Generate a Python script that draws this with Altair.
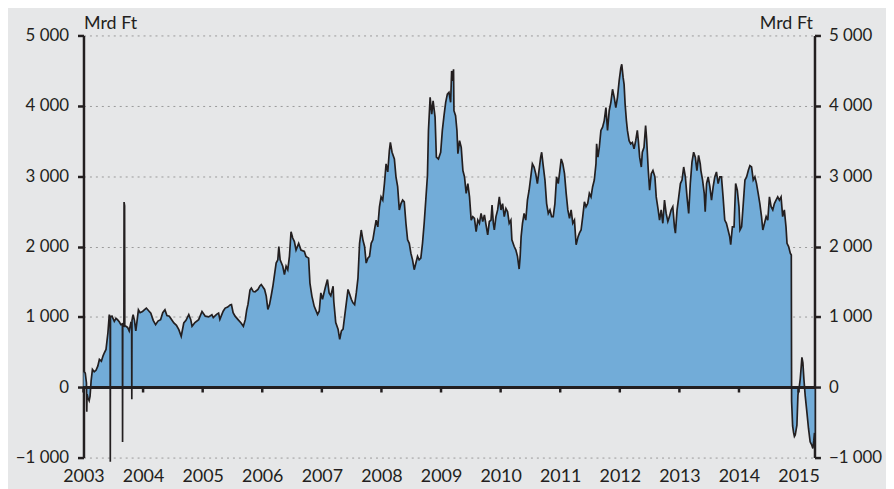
import altair as alt
import pandas as pd

# ---- data (decimal year, value in Mrd Ft) ----
years_a = [2003.000, 2003.030, 2003.050, 2003.055, 2003.060, 2003.075, 2003.095, 2003.110, 2003.128, 2003.150,
           2003.180, 2003.210, 2003.240, 2003.267, 2003.300, 2003.330, 2003.350, 2003.378, 2003.410, 2003.433,
           2003.447, 2003.450, 2003.453, 2003.478, 2003.517, 2003.545, 2003.570, 2003.600, 2003.628, 2003.653,
           2003.656, 2003.659, 2003.678, 2003.681, 2003.690, 2003.693, 2003.711, 2003.740, 2003.767, 2003.794,
           2003.808, 2003.811, 2003.814, 2003.833, 2003.855, 2003.878, 2003.900, 2003.922, 2003.950, 2003.990,
           2004.020, 2004.055, 2004.090, 2004.130, 2004.170, 2004.210, 2004.250, 2004.294, 2004.330, 2004.367,
           2004.400, 2004.440, 2004.480, 2004.517, 2004.560, 2004.600, 2004.640, 2004.683, 2004.720, 2004.767,
           2004.800, 2004.822, 2004.870, 2004.933, 2004.989, 2005.044, 2005.100]
vals_a = [230, 200, 60, -350, -100, -150, -190, -130, 90, 254,
          220, 240, 300, 395, 370, 450, 490, 537, 772, 1031,
          1000, -1060, 1000, 1010, 937, 980, 960, 930, 890, 900,
          -777, 880, 870, 2631, 2580, 880, 866, 850, 800, 913,
          900, -170, 950, 1031, 950, 800, 950, 1100, 1060, 1076,
          1100, 1125, 1090, 1053, 950, 890, 940, 960, 1060, 1100,
          1020, 1010, 960, 913, 880, 819, 725, 913, 950, 1031,
          960, 866, 920, 960, 1076, 1010, 1000]

years_b = [2005.155, 2005.178, 2005.233, 2005.267, 2005.289, 2005.344, 2005.378, 2005.420, 2005.460, 2005.483,
           2005.511, 2005.544, 2005.590, 2005.644, 2005.683, 2005.715, 2005.739, 2005.761, 2005.794, 2005.817,
           2005.850, 2005.878, 2005.928, 2005.960, 2005.983, 2006.039, 2006.067, 2006.094, 2006.122, 2006.150,
           2006.178, 2006.233, 2006.261, 2006.278, 2006.300, 2006.344, 2006.372, 2006.400, 2006.428, 2006.456,
           2006.483, 2006.511, 2006.539, 2006.567, 2006.611, 2006.650, 2006.706, 2006.733, 2006.778, 2006.800,
           2006.833, 2006.872, 2006.928, 2006.956, 2006.983, 2007.011, 2007.056, 2007.094, 2007.122, 2007.150,
           2007.161, 2007.189, 2007.200]
vals_b = [1031, 990, 1035, 1053, 965, 1080, 1125, 1140, 1170, 1175,
          1060, 1010, 965, 913, 866, 960, 1100, 1180, 1380, 1410,
          1360, 1357, 1390, 1440, 1460, 1390, 1295, 1105, 1175, 1300,
          1435, 1765, 1810, 2000, 1810, 1720, 1600, 1720, 1670, 1860,
          2210, 2120, 2070, 1950, 2045, 1950, 1930, 1860, 1835, 1480,
          1295, 1150, 1035, 1080, 1340, 1250, 1410, 1530, 1340, 1300,
          1340, 1435, 1225]

years_c = [2007.233, 2007.272, 2007.300, 2007.328, 2007.356, 2007.383, 2007.411, 2007.439, 2007.467, 2007.494,
           2007.522, 2007.550, 2007.578, 2007.606, 2007.633, 2007.661, 2007.689, 2007.717, 2007.744, 2007.772,
           2007.800, 2007.828, 2007.856, 2007.883, 2007.911, 2007.939, 2007.967, 2007.994, 2008.022, 2008.050,
           2008.078, 2008.106, 2008.133, 2008.150, 2008.178, 2008.217, 2008.244, 2008.272, 2008.300, 2008.328,
           2008.356, 2008.383, 2008.411, 2008.439, 2008.467, 2008.494, 2008.522, 2008.550, 2008.578, 2008.606,
           2008.633, 2008.661, 2008.689, 2008.717, 2008.744, 2008.772, 2008.789, 2008.817, 2008.844, 2008.867,
           2008.900, 2008.922, 2008.956, 2008.994, 2009.022, 2009.050, 2009.078, 2009.106, 2009.133, 2009.161,
           2009.178, 2009.200]
vals_c = [920, 825, 680, 800, 825, 1010, 1200, 1390, 1320, 1250,
          1200, 1175, 1340, 1550, 2045, 2235, 2095, 2000, 1765, 1835,
          1860, 2045, 2095, 2235, 2375, 2280, 2565, 2705, 2660, 2895,
          3175, 3060, 3365, 3480, 3340, 3245, 2990, 2850, 2520, 2610,
          2660, 2635, 2330, 2095, 2045, 1905, 1810, 1670, 1765, 1860,
          1810, 1835, 2045, 2330, 2660, 3010, 3650, 4120, 3880, 4070,
          3840, 3270, 3245, 3340, 3650, 3860, 4050, 4165, 4190, 4050,
          4495, 4355]

years_d = [2009.210, 2009.217, 2009.244, 2009.267, 2009.283, 2009.311, 2009.339, 2009.367, 2009.394, 2009.422,
           2009.450, 2009.478, 2009.506, 2009.533, 2009.561, 2009.589, 2009.617, 2009.644, 2009.672, 2009.700,
           2009.728, 2009.756, 2009.783, 2009.811, 2009.839, 2009.856, 2009.878, 2009.894, 2009.922, 2009.950,
           2009.978, 2010.006, 2010.033, 2010.061, 2010.089, 2010.117, 2010.144, 2010.172, 2010.189, 2010.228,
           2010.256, 2010.283, 2010.311, 2010.328, 2010.344, 2010.367, 2010.394, 2010.422, 2010.450, 2010.478,
           2010.506, 2010.533, 2010.561, 2010.589, 2010.617, 2010.644, 2010.672, 2010.689, 2010.711, 2010.744,
           2010.772, 2010.800, 2010.828, 2010.856, 2010.883, 2010.911, 2010.939, 2010.967, 2010.994, 2011.017,
           2011.044, 2011.072, 2011.100, 2011.128, 2011.156, 2011.183, 2011.211, 2011.239, 2011.267, 2011.300]
vals_d = [4520, 3930, 3860, 3650, 3320, 3505, 3410, 3080, 2990, 2755,
          2895, 2705, 2375, 2425, 2400, 2210, 2375, 2330, 2470, 2355,
          2450, 2305, 2165, 2355, 2375, 2590, 2330, 2235, 2425, 2520,
          2705, 2520, 2610, 2425, 2540, 2495, 2330, 2375, 2095, 2000,
          1950, 1860, 1680, 1860, 2140, 2330, 2470, 2375, 2660, 2800,
          2990, 3175, 3130, 3035, 2895, 3080, 3270, 3340, 3175, 2945,
          2610, 2470, 2520, 2425, 2425, 2610, 2990, 2895, 3080, 3245,
          3175, 3035, 2755, 2520, 2400, 2520, 2330, 2375, 2025, 2140]

years_e = [2011.322, 2011.350, 2011.378, 2011.406, 2011.433, 2011.461, 2011.489, 2011.517, 2011.544, 2011.572,
           2011.600, 2011.611, 2011.633, 2011.656, 2011.683, 2011.711, 2011.739, 2011.767, 2011.794, 2011.822,
           2011.850, 2011.878, 2011.906, 2011.933, 2011.961, 2011.989, 2012.017, 2012.033, 2012.056, 2012.072,
           2012.089, 2012.111, 2012.128, 2012.156, 2012.183, 2012.211, 2012.239, 2012.267, 2012.294, 2012.311,
           2012.333, 2012.361, 2012.378, 2012.406, 2012.433, 2012.450, 2012.478, 2012.500, 2012.528, 2012.556,
           2012.589, 2012.611, 2012.644, 2012.667, 2012.694, 2012.722, 2012.750, 2012.778, 2012.806, 2012.833,
           2012.861, 2012.889, 2012.917, 2012.933, 2012.961, 2012.989, 2013.017, 2013.044, 2013.072, 2013.100,
           2013.128, 2013.156, 2013.183, 2013.211, 2013.239, 2013.267, 2013.294, 2013.322, 2013.350]
vals_e = [2190, 2235, 2425, 2635, 2565, 2610, 2755, 2705, 2850, 2945,
          3175, 3460, 3270, 3410, 3650, 3695, 3790, 3975, 3650, 3930,
          4050, 4235, 4120, 3975, 4120, 4355, 4540, 4590, 4400, 4305,
          4025, 3790, 3650, 3505, 3460, 3480, 3390, 3505, 3650, 3505,
          3270, 3130, 3340, 3410, 3720, 3530, 3080, 2800, 3035, 3080,
          2990, 2705, 2520, 2375, 2520, 2330, 2660, 2470, 2355, 2425,
          2520, 2565, 2280, 2190, 2520, 2705, 2895, 2945, 3130, 2990,
          2705, 2470, 2895, 3200, 3340, 3270, 3080, 3295, 3175]

years_f = [2013.361, 2013.389, 2013.417, 2013.433, 2013.456, 2013.483, 2013.511, 2013.539, 2013.567, 2013.594,
           2013.622, 2013.650, 2013.678, 2013.706, 2013.733, 2013.761, 2013.789, 2013.817, 2013.844, 2013.861,
           2013.889, 2013.917, 2013.944, 2013.972, 2014.000, 2014.017, 2014.044, 2014.072, 2014.100, 2014.128,
           2014.156, 2014.183, 2014.211, 2014.239, 2014.267, 2014.294, 2014.322, 2014.350, 2014.378, 2014.400,
           2014.428, 2014.456, 2014.483, 2014.511, 2014.539, 2014.567, 2014.594, 2014.622, 2014.650, 2014.678,
           2014.706, 2014.733, 2014.761, 2014.789, 2014.806, 2014.833, 2014.861, 2014.878, 2014.883, 2014.900,
           2014.917, 2014.930, 2014.944, 2014.960, 2014.972, 2014.989, 2015.000, 2015.011, 2015.028, 2015.045,
           2015.056, 2015.072, 2015.089, 2015.111, 2015.139, 2015.167, 2015.194, 2015.222, 2015.240, 2015.255,
           2015.267]
vals_f = [3080, 2945, 2755, 2495, 2895, 2990, 2850, 2660, 2850, 2990,
          3060, 2895, 2990, 2990, 2705, 2375, 2330, 2235, 2140, 2025,
          2280, 2280, 2895, 2800, 2565, 2235, 2280, 2610, 2945, 2990,
          3080, 3150, 3130, 2945, 2990, 2895, 2755, 2610, 2425, 2235,
          2330, 2425, 2375, 2705, 2565, 2520, 2610, 2660, 2705, 2660,
          2705, 2425, 2520, 2280, 2045, 2000, 1905, 1880, -200, -550,
          -650, -700, -680, -600, -540, -120, -20, 0, 120, 300,
          425, 350, 120, -120, -350, -590, -775, -825, -870, -760,
          -650]

year_ticks = list(range(2003, 2016))
y_ticks = [-1000, 0, 1000, 2000, 3000, 4000, 5000]
x_domain = [2003.0, 2015.267]
y_domain = [-1000, 5000]
unit_label = "Mrd Ft"

years = years_a + years_b + years_c + years_d + years_e + years_f
vals = vals_a + vals_b + vals_c + vals_d + vals_e + vals_f
df = pd.DataFrame({"year": years, "v": vals})
ticks_df = pd.DataFrame({"year": year_ticks})

FONT = "Lato"
INK = "#231f20"
FILL = "#72acd8"
BG = "#e6e7e8"
FS = 18
YFS = 17
label_expr = "replace(format(datum.value, ',d'), ',', ' ')"

x_scale = alt.Scale(domain=x_domain, nice=False, zero=False)
y_scale = alt.Scale(domain=y_domain, nice=False, zero=False)

x_enc = alt.X("year:Q", scale=x_scale,
              axis=alt.Axis(values=year_ticks, format="d", domain=False, ticks=False, tickSize=0,
                            grid=False, labelFont=FONT, labelFontSize=FS, labelColor=INK,
                            labelPadding=10, title=None, labelFlush=False))

left_axis = alt.Axis(values=y_ticks, labelExpr=label_expr, grid=True, gridDash=[2, 4],
                     gridColor="#9a9a9a", gridWidth=1, domain=True, domainWidth=2.5,
                     domainColor=INK, ticks=True, tickSize=6, tickWidth=2.5, tickColor=INK,
                     labelFont=FONT, labelFontSize=YFS, labelColor=INK, labelPadding=9,
                     title=unit_label, titleAngle=0, titleX=0, titleY=-7, titleAlign="left",
                     titleBaseline="alphabetic", titleFont=FONT, titleFontSize=FS,
                     titleFontWeight="normal", titleColor=INK)
right_axis = alt.Axis(values=y_ticks, labelExpr=label_expr, grid=False, orient="right",
                      domain=True, domainWidth=2.5, domainColor=INK, ticks=True, tickSize=6,
                      tickWidth=2.5, tickColor=INK, labelFont=FONT, labelFontSize=YFS,
                      labelColor=INK, labelPadding=8, title=unit_label, titleAngle=0,
                      titleX=-2, titleY=-7, titleAlign="right", titleBaseline="alphabetic",
                      titleFont=FONT, titleFontSize=FS, titleFontWeight="normal", titleColor=INK)

base = alt.Chart(df)
area = base.mark_area(color=FILL, opacity=1).encode(
    x=x_enc, y=alt.Y("v:Q", scale=y_scale, axis=left_axis), y2=alt.Y2(datum=0))
line = base.mark_line(color=INK, strokeWidth=1.7, strokeJoin="miter").encode(
    x=alt.X("year:Q", scale=x_scale), y=alt.Y("v:Q", scale=y_scale))
zero = base.mark_rule(color=INK, strokeWidth=2.5).encode(
    x=alt.X(datum=x_domain[0], scale=x_scale), x2=alt.X2(datum=x_domain[1]),
    y=alt.Y(datum=0, scale=y_scale))
xticks = alt.Chart(ticks_df).mark_rule(color=INK, strokeWidth=2.5).encode(
    x=alt.X("year:Q", scale=x_scale), y=alt.Y(datum=0, scale=y_scale), y2=alt.Y2(datum=-75))

main = alt.layer(area, line, zero, xticks)
right = base.mark_line(opacity=0).encode(
    x=alt.X("year:Q", scale=x_scale), y=alt.Y("v:Q", scale=y_scale, axis=right_axis))

chart = alt.layer(main, right).resolve_scale(y="independent").properties(
    width=736, height=425,
    padding={"left": 76, "top": 26, "right": 72, "bottom": 30},
    autosize=alt.AutoSizeParams(type="none"),
    background=BG,
).configure_view(stroke=None)

chart.save("out.html", embed_options={"renderer": "svg", "actions": False})
